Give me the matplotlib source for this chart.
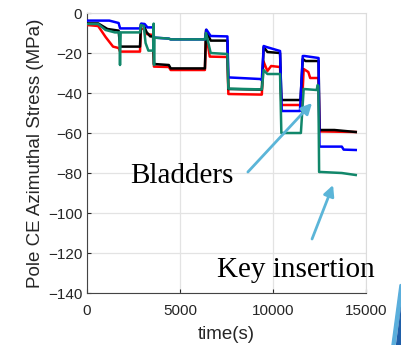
import matplotlib
matplotlib.use("Agg")
import matplotlib.pyplot as plt
from matplotlib.patches import Polygon

# time (s) and stress (MPa), one pair per gauge
t_red = [0, 600, 1000, 1400, 1700, 1780, 2850, 2900, 3030, 3200, 3550, 3600, 4400, 4500,
         6340, 6400, 6600, 7550, 7600, 9400, 9480, 9700, 9900, 10380, 10450, 11560,
         11650, 11900, 12000, 12450, 12500, 14450]
y_red = [-6, -6.5, -12, -16.8, -17.5, -19.3, -19.3, -8, -7.8, -10.5, -11, -26.8, -27, -28.5,
         -28.5, -10, -21.8, -22, -40.5, -40.8, -24, -29, -26.5, -27, -46, -46,
         -28, -29.5, -32.5, -32.5, -59.2, -59.5]

t_black = [0, 600, 1100, 1700, 1780, 2850, 2900, 3050, 3200, 3400, 3560, 3600, 4400, 4500,
           6340, 6400, 6650, 7550, 7600, 9400, 9500, 9700, 10380, 10450, 11480, 11600,
           11750, 12450, 12500, 13300, 14450]
y_black = [-5.2, -5.2, -8, -8.8, -16.8, -16.8, -5.5, -6, -9.5, -11.7, -11.7, -25.5, -26, -27.7,
           -27.7, -8.5, -13.8, -13.8, -38, -38.3, -17, -19.5, -20, -43.5, -43.5, -23,
           -24, -24, -58.5, -58.5, -59.5]

t_blue = [0, 1200, 1700, 1780, 2850, 2920, 3100, 3250, 3560, 3600, 4400, 4500, 6340, 6420,
          6650, 7550, 7600, 9300, 9400, 9500, 9650, 10380, 10470, 11450, 11600, 11700,
          12450, 12500, 13700, 13800, 14450]
y_blue = [-3.8, -3.8, -5, -7.7, -7.7, -5.3, -5.5, -7.2, -7.2, -12.3, -12.8, -13.2, -13.2, -8.3,
          -11.5, -11.7, -32.2, -33, -33.5, -16.5, -17, -19, -49, -49, -21.5, -21.5,
          -22.5, -66.8, -66.8, -68.3, -68.5]

t_green = [0, 600, 1000, 1500, 1740, 1775, 1810, 2850, 2900, 3050, 3150, 3300, 3560, 3585,
           3605, 3625, 4400, 4500, 6340, 6400, 6650, 7550, 7600, 9400, 9500, 9700, 10380,
           10450, 11500, 11650, 12350, 12400, 12440, 12480, 12600, 13700, 14450]
y_green = [-5.5, -5.5, -8.5, -9.7, -9.7, -26, -9.7, -9.7, -6, -6.5, -15, -18.8, -18.8, -5.3,
           -26, -12.3, -12.8, -13.2, -13.2, -10, -20, -20.5, -37.8, -38.2, -28.5, -30.5, -30.5,
           -60, -60, -38, -38.5, -36, -36.5, -79.5, -79.5, -80, -81]

x_ticks = [0, 5000, 10000, 15000]
y_ticks = [0, -20, -40, -60, -80, -100, -120, -140]

fig = plt.figure(figsize=(4.02, 3.45), dpi=100)
ax = fig.add_axes([0.2164, 0.1507, 0.694, 0.8116])

lw = 1.8
ax.plot(t_red, y_red, color="#ff0000", lw=lw, zorder=3)
ax.plot(t_black, y_black, color="#000000", lw=lw, zorder=4)
ax.plot(t_blue, y_blue, color="#0000ff", lw=lw, zorder=5)
ax.plot(t_green, y_green, color="#11876a", lw=lw, zorder=6)

ax.set_xlim(0, 15000)
ax.set_ylim(-140, 0)
ax.set_xticks(x_ticks)
ax.set_yticks(y_ticks)
ax.grid(True, color="#e3e3e3", lw=0.9)
ax.set_axisbelow(True)
for side in ["top", "right"]:
    ax.spines[side].set_color("#dcdcdc")
for side in ["left", "bottom"]:
    ax.spines[side].set_color("#444444")
ax.tick_params(direction="in", length=3, labelsize=11, colors="#262626")
ax.tick_params(axis="x", pad=8)
for lab in ax.get_xticklabels() + ax.get_yticklabels():
    lab.set_family("Liberation Sans")
ax.set_xlabel("time(s)", family="Liberation Sans", fontsize=13.5, color="#262626", labelpad=6)
ax.set_ylabel("Pole CE Azimuthal Stress (MPa)", family="Liberation Sans", fontsize=13.5,
              color="#262626", labelpad=3)

# annotations
arrow = dict(arrowstyle="-|>", color="#5bb5d8", lw=2, mutation_scale=16, shrinkA=0, shrinkB=0)
ax.annotate("", xy=(12100, -45), xytext=(8650, -79.5), arrowprops=arrow, zorder=7)
ax.annotate("", xy=(13230, -86), xytext=(12100, -113), arrowprops=arrow, zorder=7)
ax.text(2310, -85, "Bladders", family="Liberation Serif", fontsize=21, va="baseline")
ax.text(6990, -132, "Key insertion", family="Liberation Serif", fontsize=21,
        va="baseline", clip_on=False)

# slide decoration in the bottom right corner
W, H = 402.0, 345.0
def fig_pts(pts):
    return [(x / W, 1 - y / H) for x, y in pts]
fig.patches.append(Polygon(fig_pts([(400, 285), (402, 284), (402, 296), (395, 345), (392, 345)]),
                           closed=True, color="#5aaedc", transform=fig.transFigure))
fig.patches.append(Polygon(fig_pts([(402, 300), (402, 345), (396, 345)]),
                           closed=True, color="#1f5ea8", transform=fig.transFigure))

fig.savefig("out.png", dpi=100)
